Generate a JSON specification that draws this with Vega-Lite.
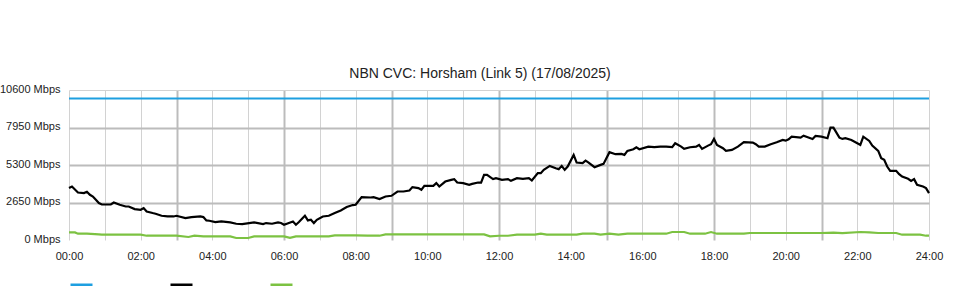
{
  "$schema": "https://vega.github.io/schema/vega-lite/v6.json",
  "width": 860,
  "height": 150,
  "autosize": {"type": "none"},
  "padding": {"left": 69, "top": 90, "right": 31, "bottom": 60},
  "background": "white",
  "config": {"font": "Liberation Sans", "view": {"stroke": null}},
  "title": {"text": "NBN CVC: Horsham (Link 5) (17/08/2025)", "fontSize": 14, "fontWeight": "normal", "color": "#222222", "anchor": "middle", "frame": "group", "dx": -19, "dy": 23, "offset": 14, "baseline": "alphabetic"},
  "data": {"values": [
    {"series": "Capacity", "minute": 0, "mbps": 10000},
    {"series": "Capacity", "minute": 1440, "mbps": 10000},
    {"series": "Inbound", "minute": 0, "mbps": 3670},
    {"series": "Inbound", "minute": 5, "mbps": 3780},
    {"series": "Inbound", "minute": 15, "mbps": 3356},
    {"series": "Inbound", "minute": 25, "mbps": 3314},
    {"series": "Inbound", "minute": 30, "mbps": 3405},
    {"series": "Inbound", "minute": 35, "mbps": 3194},
    {"series": "Inbound", "minute": 40, "mbps": 3074},
    {"series": "Inbound", "minute": 45, "mbps": 2841},
    {"series": "Inbound", "minute": 50, "mbps": 2609},
    {"series": "Inbound", "minute": 55, "mbps": 2510},
    {"series": "Inbound", "minute": 70, "mbps": 2510},
    {"series": "Inbound", "minute": 75, "mbps": 2651},
    {"series": "Inbound", "minute": 85, "mbps": 2489},
    {"series": "Inbound", "minute": 95, "mbps": 2369},
    {"series": "Inbound", "minute": 100, "mbps": 2369},
    {"series": "Inbound", "minute": 110, "mbps": 2186},
    {"series": "Inbound", "minute": 120, "mbps": 2136},
    {"series": "Inbound", "minute": 125, "mbps": 2256},
    {"series": "Inbound", "minute": 130, "mbps": 2016},
    {"series": "Inbound", "minute": 140, "mbps": 1904},
    {"series": "Inbound", "minute": 145, "mbps": 1854},
    {"series": "Inbound", "minute": 155, "mbps": 1713},
    {"series": "Inbound", "minute": 165, "mbps": 1664},
    {"series": "Inbound", "minute": 175, "mbps": 1664},
    {"series": "Inbound", "minute": 180, "mbps": 1713},
    {"series": "Inbound", "minute": 195, "mbps": 1551},
    {"series": "Inbound", "minute": 205, "mbps": 1622},
    {"series": "Inbound", "minute": 220, "mbps": 1664},
    {"series": "Inbound", "minute": 225, "mbps": 1622},
    {"series": "Inbound", "minute": 230, "mbps": 1382},
    {"series": "Inbound", "minute": 235, "mbps": 1361},
    {"series": "Inbound", "minute": 245, "mbps": 1269},
    {"series": "Inbound", "minute": 255, "mbps": 1311},
    {"series": "Inbound", "minute": 270, "mbps": 1241},
    {"series": "Inbound", "minute": 280, "mbps": 1149},
    {"series": "Inbound", "minute": 290, "mbps": 1128},
    {"series": "Inbound", "minute": 310, "mbps": 1241},
    {"series": "Inbound", "minute": 325, "mbps": 1128},
    {"series": "Inbound", "minute": 330, "mbps": 1199},
    {"series": "Inbound", "minute": 340, "mbps": 1149},
    {"series": "Inbound", "minute": 350, "mbps": 1241},
    {"series": "Inbound", "minute": 355, "mbps": 1199},
    {"series": "Inbound", "minute": 360, "mbps": 1079},
    {"series": "Inbound", "minute": 375, "mbps": 1311},
    {"series": "Inbound", "minute": 380, "mbps": 1079},
    {"series": "Inbound", "minute": 385, "mbps": 1269},
    {"series": "Inbound", "minute": 395, "mbps": 1713},
    {"series": "Inbound", "minute": 400, "mbps": 1382},
    {"series": "Inbound", "minute": 405, "mbps": 1431},
    {"series": "Inbound", "minute": 410, "mbps": 1199},
    {"series": "Inbound", "minute": 415, "mbps": 1431},
    {"series": "Inbound", "minute": 425, "mbps": 1664},
    {"series": "Inbound", "minute": 435, "mbps": 1713},
    {"series": "Inbound", "minute": 445, "mbps": 1904},
    {"series": "Inbound", "minute": 455, "mbps": 2087},
    {"series": "Inbound", "minute": 465, "mbps": 2327},
    {"series": "Inbound", "minute": 475, "mbps": 2468},
    {"series": "Inbound", "minute": 480, "mbps": 2489},
    {"series": "Inbound", "minute": 490, "mbps": 3032},
    {"series": "Inbound", "minute": 505, "mbps": 3003},
    {"series": "Inbound", "minute": 510, "mbps": 3032},
    {"series": "Inbound", "minute": 520, "mbps": 2891},
    {"series": "Inbound", "minute": 530, "mbps": 3074},
    {"series": "Inbound", "minute": 540, "mbps": 3123},
    {"series": "Inbound", "minute": 550, "mbps": 3426},
    {"series": "Inbound", "minute": 560, "mbps": 3426},
    {"series": "Inbound", "minute": 570, "mbps": 3497},
    {"series": "Inbound", "minute": 575, "mbps": 3737},
    {"series": "Inbound", "minute": 585, "mbps": 3666},
    {"series": "Inbound", "minute": 590, "mbps": 3546},
    {"series": "Inbound", "minute": 595, "mbps": 3828},
    {"series": "Inbound", "minute": 610, "mbps": 3828},
    {"series": "Inbound", "minute": 615, "mbps": 4019},
    {"series": "Inbound", "minute": 620, "mbps": 3779},
    {"series": "Inbound", "minute": 630, "mbps": 4131},
    {"series": "Inbound", "minute": 640, "mbps": 4251},
    {"series": "Inbound", "minute": 645, "mbps": 4301},
    {"series": "Inbound", "minute": 650, "mbps": 4061},
    {"series": "Inbound", "minute": 660, "mbps": 4019},
    {"series": "Inbound", "minute": 670, "mbps": 3899},
    {"series": "Inbound", "minute": 675, "mbps": 3969},
    {"series": "Inbound", "minute": 685, "mbps": 4061},
    {"series": "Inbound", "minute": 690, "mbps": 4061},
    {"series": "Inbound", "minute": 695, "mbps": 4604},
    {"series": "Inbound", "minute": 700, "mbps": 4604},
    {"series": "Inbound", "minute": 710, "mbps": 4301},
    {"series": "Inbound", "minute": 715, "mbps": 4371},
    {"series": "Inbound", "minute": 725, "mbps": 4251},
    {"series": "Inbound", "minute": 735, "mbps": 4301},
    {"series": "Inbound", "minute": 740, "mbps": 4181},
    {"series": "Inbound", "minute": 750, "mbps": 4371},
    {"series": "Inbound", "minute": 760, "mbps": 4322},
    {"series": "Inbound", "minute": 770, "mbps": 4371},
    {"series": "Inbound", "minute": 775, "mbps": 4202},
    {"series": "Inbound", "minute": 785, "mbps": 4724},
    {"series": "Inbound", "minute": 790, "mbps": 4724},
    {"series": "Inbound", "minute": 795, "mbps": 4956},
    {"series": "Inbound", "minute": 805, "mbps": 5238},
    {"series": "Inbound", "minute": 815, "mbps": 5076},
    {"series": "Inbound", "minute": 820, "mbps": 5006},
    {"series": "Inbound", "minute": 825, "mbps": 5238},
    {"series": "Inbound", "minute": 830, "mbps": 4956},
    {"series": "Inbound", "minute": 835, "mbps": 5189},
    {"series": "Inbound", "minute": 845, "mbps": 6014},
    {"series": "Inbound", "minute": 850, "mbps": 5471},
    {"series": "Inbound", "minute": 860, "mbps": 5429},
    {"series": "Inbound", "minute": 865, "mbps": 5612},
    {"series": "Inbound", "minute": 870, "mbps": 5471},
    {"series": "Inbound", "minute": 880, "mbps": 5147},
    {"series": "Inbound", "minute": 890, "mbps": 5309},
    {"series": "Inbound", "minute": 895, "mbps": 5379},
    {"series": "Inbound", "minute": 905, "mbps": 6204},
    {"series": "Inbound", "minute": 915, "mbps": 6063},
    {"series": "Inbound", "minute": 925, "mbps": 6084},
    {"series": "Inbound", "minute": 930, "mbps": 6014},
    {"series": "Inbound", "minute": 935, "mbps": 6296},
    {"series": "Inbound", "minute": 945, "mbps": 6416},
    {"series": "Inbound", "minute": 950, "mbps": 6557},
    {"series": "Inbound", "minute": 955, "mbps": 6416},
    {"series": "Inbound", "minute": 970, "mbps": 6599},
    {"series": "Inbound", "minute": 980, "mbps": 6557},
    {"series": "Inbound", "minute": 990, "mbps": 6599},
    {"series": "Inbound", "minute": 1000, "mbps": 6599},
    {"series": "Inbound", "minute": 1010, "mbps": 6557},
    {"series": "Inbound", "minute": 1015, "mbps": 6839},
    {"series": "Inbound", "minute": 1025, "mbps": 6599},
    {"series": "Inbound", "minute": 1030, "mbps": 6437},
    {"series": "Inbound", "minute": 1040, "mbps": 6557},
    {"series": "Inbound", "minute": 1050, "mbps": 6599},
    {"series": "Inbound", "minute": 1055, "mbps": 6719},
    {"series": "Inbound", "minute": 1060, "mbps": 6437},
    {"series": "Inbound", "minute": 1070, "mbps": 6669},
    {"series": "Inbound", "minute": 1075, "mbps": 6768},
    {"series": "Inbound", "minute": 1080, "mbps": 7142},
    {"series": "Inbound", "minute": 1085, "mbps": 6719},
    {"series": "Inbound", "minute": 1095, "mbps": 6486},
    {"series": "Inbound", "minute": 1100, "mbps": 6296},
    {"series": "Inbound", "minute": 1110, "mbps": 6366},
    {"series": "Inbound", "minute": 1120, "mbps": 6599},
    {"series": "Inbound", "minute": 1130, "mbps": 6909},
    {"series": "Inbound", "minute": 1145, "mbps": 6881},
    {"series": "Inbound", "minute": 1150, "mbps": 6768},
    {"series": "Inbound", "minute": 1155, "mbps": 6599},
    {"series": "Inbound", "minute": 1165, "mbps": 6599},
    {"series": "Inbound", "minute": 1175, "mbps": 6768},
    {"series": "Inbound", "minute": 1185, "mbps": 6909},
    {"series": "Inbound", "minute": 1195, "mbps": 7071},
    {"series": "Inbound", "minute": 1200, "mbps": 7022},
    {"series": "Inbound", "minute": 1205, "mbps": 7121},
    {"series": "Inbound", "minute": 1210, "mbps": 7304},
    {"series": "Inbound", "minute": 1225, "mbps": 7233},
    {"series": "Inbound", "minute": 1230, "mbps": 7374},
    {"series": "Inbound", "minute": 1245, "mbps": 7142},
    {"series": "Inbound", "minute": 1250, "mbps": 7353},
    {"series": "Inbound", "minute": 1260, "mbps": 7304},
    {"series": "Inbound", "minute": 1270, "mbps": 7191},
    {"series": "Inbound", "minute": 1275, "mbps": 7938},
    {"series": "Inbound", "minute": 1280, "mbps": 7938},
    {"series": "Inbound", "minute": 1290, "mbps": 7233},
    {"series": "Inbound", "minute": 1295, "mbps": 7142},
    {"series": "Inbound", "minute": 1300, "mbps": 7191},
    {"series": "Inbound", "minute": 1310, "mbps": 7071},
    {"series": "Inbound", "minute": 1320, "mbps": 6839},
    {"series": "Inbound", "minute": 1325, "mbps": 6719},
    {"series": "Inbound", "minute": 1330, "mbps": 7304},
    {"series": "Inbound", "minute": 1340, "mbps": 7001},
    {"series": "Inbound", "minute": 1345, "mbps": 6669},
    {"series": "Inbound", "minute": 1355, "mbps": 6296},
    {"series": "Inbound", "minute": 1360, "mbps": 5781},
    {"series": "Inbound", "minute": 1365, "mbps": 5661},
    {"series": "Inbound", "minute": 1370, "mbps": 5189},
    {"series": "Inbound", "minute": 1375, "mbps": 4886},
    {"series": "Inbound", "minute": 1385, "mbps": 4886},
    {"series": "Inbound", "minute": 1390, "mbps": 4653},
    {"series": "Inbound", "minute": 1395, "mbps": 4484},
    {"series": "Inbound", "minute": 1405, "mbps": 4322},
    {"series": "Inbound", "minute": 1410, "mbps": 4181},
    {"series": "Inbound", "minute": 1415, "mbps": 4301},
    {"series": "Inbound", "minute": 1420, "mbps": 3899},
    {"series": "Inbound", "minute": 1430, "mbps": 3779},
    {"series": "Inbound", "minute": 1435, "mbps": 3666},
    {"series": "Inbound", "minute": 1440, "mbps": 3314},
    {"series": "Outbound", "minute": 0, "mbps": 536},
    {"series": "Outbound", "minute": 10, "mbps": 536},
    {"series": "Outbound", "minute": 15, "mbps": 444},
    {"series": "Outbound", "minute": 30, "mbps": 444},
    {"series": "Outbound", "minute": 50, "mbps": 400},
    {"series": "Outbound", "minute": 55, "mbps": 374},
    {"series": "Outbound", "minute": 120, "mbps": 374},
    {"series": "Outbound", "minute": 130, "mbps": 303},
    {"series": "Outbound", "minute": 180, "mbps": 303},
    {"series": "Outbound", "minute": 200, "mbps": 212},
    {"series": "Outbound", "minute": 210, "mbps": 303},
    {"series": "Outbound", "minute": 225, "mbps": 254},
    {"series": "Outbound", "minute": 270, "mbps": 254},
    {"series": "Outbound", "minute": 280, "mbps": 141},
    {"series": "Outbound", "minute": 300, "mbps": 141},
    {"series": "Outbound", "minute": 310, "mbps": 254},
    {"series": "Outbound", "minute": 360, "mbps": 254},
    {"series": "Outbound", "minute": 370, "mbps": 150},
    {"series": "Outbound", "minute": 380, "mbps": 254},
    {"series": "Outbound", "minute": 435, "mbps": 254},
    {"series": "Outbound", "minute": 445, "mbps": 324},
    {"series": "Outbound", "minute": 480, "mbps": 324},
    {"series": "Outbound", "minute": 500, "mbps": 303},
    {"series": "Outbound", "minute": 520, "mbps": 303},
    {"series": "Outbound", "minute": 530, "mbps": 395},
    {"series": "Outbound", "minute": 695, "mbps": 395},
    {"series": "Outbound", "minute": 705, "mbps": 254},
    {"series": "Outbound", "minute": 720, "mbps": 300},
    {"series": "Outbound", "minute": 735, "mbps": 300},
    {"series": "Outbound", "minute": 750, "mbps": 374},
    {"series": "Outbound", "minute": 780, "mbps": 374},
    {"series": "Outbound", "minute": 790, "mbps": 444},
    {"series": "Outbound", "minute": 800, "mbps": 374},
    {"series": "Outbound", "minute": 850, "mbps": 374},
    {"series": "Outbound", "minute": 860, "mbps": 444},
    {"series": "Outbound", "minute": 880, "mbps": 444},
    {"series": "Outbound", "minute": 890, "mbps": 374},
    {"series": "Outbound", "minute": 905, "mbps": 444},
    {"series": "Outbound", "minute": 920, "mbps": 374},
    {"series": "Outbound", "minute": 935, "mbps": 444},
    {"series": "Outbound", "minute": 1000, "mbps": 444},
    {"series": "Outbound", "minute": 1010, "mbps": 564},
    {"series": "Outbound", "minute": 1030, "mbps": 564},
    {"series": "Outbound", "minute": 1040, "mbps": 444},
    {"series": "Outbound", "minute": 1065, "mbps": 444},
    {"series": "Outbound", "minute": 1075, "mbps": 564},
    {"series": "Outbound", "minute": 1085, "mbps": 444},
    {"series": "Outbound", "minute": 1130, "mbps": 444},
    {"series": "Outbound", "minute": 1140, "mbps": 493},
    {"series": "Outbound", "minute": 1260, "mbps": 493},
    {"series": "Outbound", "minute": 1280, "mbps": 520},
    {"series": "Outbound", "minute": 1295, "mbps": 493},
    {"series": "Outbound", "minute": 1325, "mbps": 564},
    {"series": "Outbound", "minute": 1340, "mbps": 540},
    {"series": "Outbound", "minute": 1355, "mbps": 493},
    {"series": "Outbound", "minute": 1385, "mbps": 493},
    {"series": "Outbound", "minute": 1395, "mbps": 374},
    {"series": "Outbound", "minute": 1425, "mbps": 374},
    {"series": "Outbound", "minute": 1435, "mbps": 303},
    {"series": "Outbound", "minute": 1440, "mbps": 303}
  ]},
  "mark": {"type": "line", "strokeWidth": 2.2},
  "encoding": {
    "x": {
      "field": "minute", "type": "quantitative",
      "scale": {"domain": [0, 1440], "nice": false, "zero": false},
      "axis": {
        "title": null,
        "values": [0, 60, 120, 180, 240, 300, 360, 420, 480, 540, 600, 660, 720, 780, 840, 900, 960, 1020, 1080, 1140, 1200, 1260, 1320, 1380, 1440],
        "labelExpr": "datum.value % 120 == 0 ? (datum.value < 600 ? '0' : '') + (datum.value / 60) + ':00' : ''",
        "labelOverlap": false, "labelFlush": false,
        "ticks": false, "domain": false,
        "labelPadding": 10, "labelFontSize": 11, "labelColor": "#222222",
        "grid": true,
        "gridColor": {"condition": {"test": "datum.value % 180 == 0 && datum.value > 0 && datum.value < 1440", "value": "#bcbcbc"}, "value": "#d2d2d2"},
        "gridWidth": {"condition": {"test": "datum.value % 180 == 0 && datum.value > 0 && datum.value < 1440", "value": 2}, "value": 1}
      }
    },
    "y": {
      "field": "mbps", "type": "quantitative",
      "scale": {"domain": [0, 10600], "nice": false},
      "axis": {
        "title": null,
        "values": [0, 2650, 5300, 7950, 10600],
        "labelExpr": "datum.value + ' Mbps'",
        "ticks": false, "domain": false,
        "labelPadding": 9, "labelFontSize": 11, "labelColor": "#222222", "labelOffset": -1,
        "grid": true,
        "gridColor": {"condition": {"test": "datum.value == 10600", "value": "#d2d2d2"}, "value": "#bcbcbc"},
        "gridWidth": {"condition": {"test": "datum.value == 10600", "value": 1}, "value": 2},
        "gridOpacity": {"condition": {"test": "datum.value == 0", "value": 0}, "value": 1}
      }
    },
    "color": {
      "field": "series", "type": "nominal",
      "scale": {"domain": ["Capacity", "Inbound", "Outbound"], "range": ["#1e9fe0", "#000000", "#7cc242"]},
      "legend": {
        "orient": "none", "legendX": 0, "legendY": 182,
        "direction": "horizontal", "title": null,
        "labelExpr": "''", "labelOffset": 0,
        "symbolType": "stroke", "symbolStrokeWidth": 2.5, "symbolSize": 484,
        "columnPadding": 67, "padding": 0
      }
    }
  }
}
